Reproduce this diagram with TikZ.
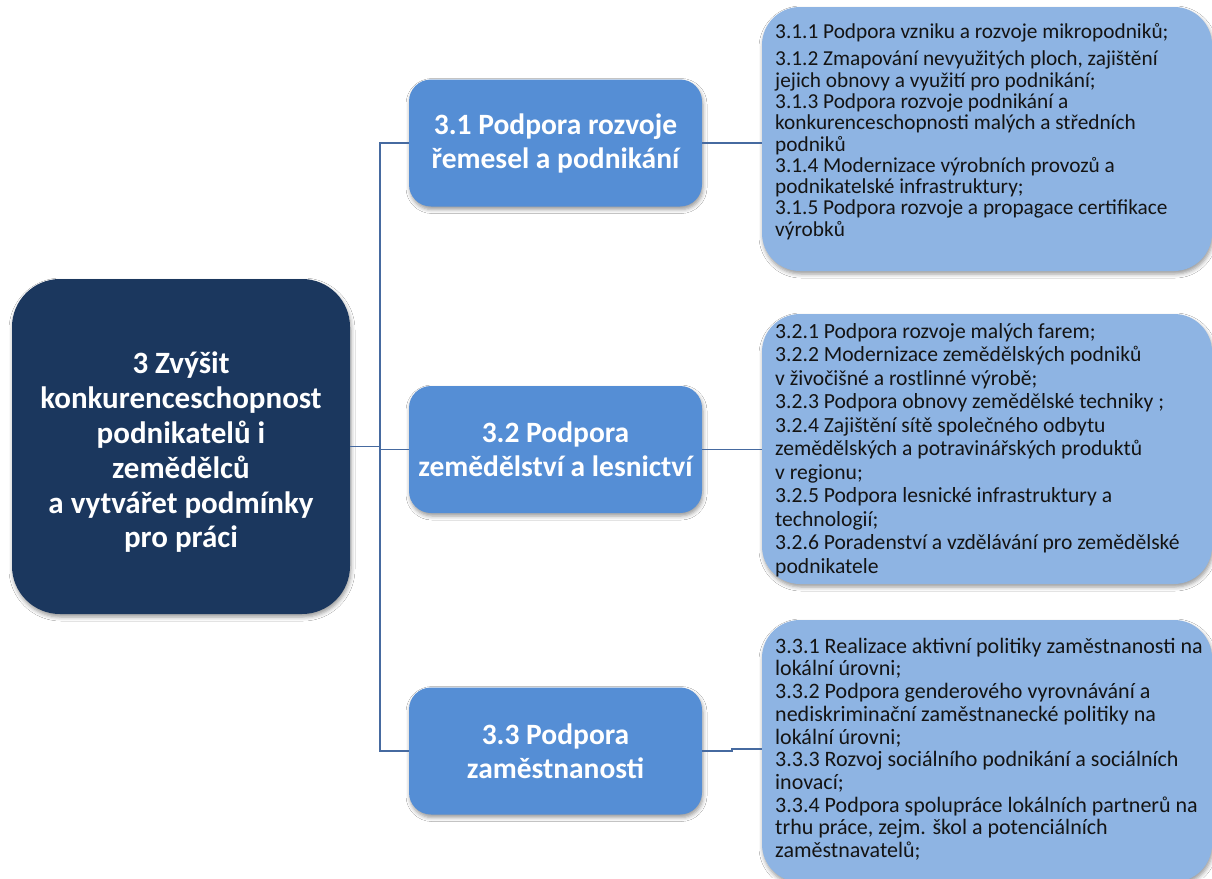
\documentclass[tikz,border=0pt]{standalone}
\usepackage{fontspec}
\setmainfont{Carlito}
\usetikzlibrary{shadows.blur}
\definecolor{navy}{RGB}{27,55,94}
\definecolor{midblue}{RGB}{85,142,213}
\definecolor{lightblue}{RGB}{142,180,227}
\definecolor{linecol}{RGB}{70,106,160}
\definecolor{txt}{RGB}{20,20,20}
\newcommand{\topstrut}{\rule{0pt}{20pt}}
\begin{document}
\begin{tikzpicture}[x=1pt,y=-1pt,
  shad/.style={blur shadow={shadow xshift=1pt,shadow yshift=-3pt,shadow blur radius=4pt,shadow opacity=40}},
  mainbox/.style={fill=navy, rounded corners=48pt, shad, inner sep=0pt, minimum width=338pt, minimum height=335pt},
  maintext/.style={text=white, font=\fontsize{31}{34.8}\selectfont\bfseries, align=center, inner sep=0pt},
  midbox/.style={fill=midblue, rounded corners=22pt, shad, minimum width=293pt, minimum height=127pt, text=white, font=\fontsize{29.5}{34}\selectfont\bfseries, align=center, inner sep=0pt},
  listbox/.style={fill=lightblue, rounded corners=38pt, shad, minimum width=450pt, inner sep=0pt},
  listtext/.style={anchor=north west, align=left, inner sep=0pt, text=txt},
  conn/.style={draw=linecol, line width=1.4pt}]
\useasboundingbox (0,0) rectangle (1212,878);
\fill[white] (0,0) rectangle (1212,878);

\node[mainbox] (main) at (181,446.5) {};
\node[maintext] (mt) at ([yshift=-6pt]main.center) {3 Zvýšit\\konkurenceschopnost\\podnikatelů i\\zemědělců\\a vytvářet podmínky\\pro práci};
\node[midbox] (b1) at (555.5,143) {3.1 Podpora rozvoje\\řemesel a podnikání};
\node[midbox] (b2) at (555.5,449.5) {3.2 Podpora\\zemědělství a lesnictví};
\node[midbox] (b3) at (555.5,751) {3.3 Podpora\\zaměstnanosti};
\node[listbox, minimum height=264pt] (l1) at (987,139) {};
\node[listbox, minimum height=270pt] (l2) at (987,449) {};
\node[listbox, minimum height=262pt] (l3) at (987,751) {};

\node[listtext, font=\fontsize{21.3}{21.3}\selectfont] (t1) at (775,18) {\topstrut 3.1.1 Podpora vzniku a rozvoje mikropodniků;\\[6.3pt]
3.1.2 Zmapování nevyužitých ploch, zajištění\\
jejich obnovy a využití pro podnikání;\\
3.1.3 Podpora rozvoje podnikání a\\
konkurenceschopnosti malých a středních\\
podniků\\
3.1.4 Modernizace výrobních provozů a\\
podnikatelské infrastruktury;\\
3.1.5 Podpora rozvoje a propagace certifikace\\
výrobků};
\node[listtext, font=\fontsize{21.6}{23.5}\selectfont] (t2) at (775,318) {\topstrut 3.2.1 Podpora rozvoje malých farem;\\
3.2.2 Modernizace zemědělských podniků\\
v živočišné a rostlinné výrobě;\\
3.2.3 Podpora obnovy zemědělské techniky ;\\
3.2.4 Zajištění sítě společného odbytu\\
zemědělských a potravinářských produktů\\
v regionu;\\
3.2.5 Podpora lesnické infrastruktury a\\
technologií;\\
3.2.6 Poradenství a vzdělávání pro zemědělské\\
podnikatele};
\node[listtext, font=\fontsize{22}{22.7}\selectfont] (t3) at (775,633) {\topstrut 3.3.1 Realizace aktivní politiky zaměstnanosti na\\
lokální úrovni;\\
3.3.2 Podpora genderového vyrovnávání a\\
nediskriminační zaměstnanecké politiky na\\
lokální úrovni;\\
3.3.3 Rozvoj sociálního podnikání a sociálních\\
inovací;\\
3.3.4 Podpora spolupráce lokálních partnerů na\\
trhu práce, zejm. škol a potenciálních\\
zaměstnavatelů;};

\coordinate (trunk) at (380,446.5);
\draw[conn] (main.east) -- (trunk);
\draw[conn] (trunk) |- (b1.west);
\draw[conn] (trunk) |- (b2.west);
\draw[conn] (trunk) |- (b3.west);
\draw[conn] (b1.east) -- (b1.east -| l1.west);
\draw[conn] (b2.east) -- (b2.east -| l2.west);
\coordinate (jog) at (732,751);
\draw[conn] (b3.east) -- (jog) -- ++(0,-2) -- ++(30,0);
\end{tikzpicture}
\end{document}
